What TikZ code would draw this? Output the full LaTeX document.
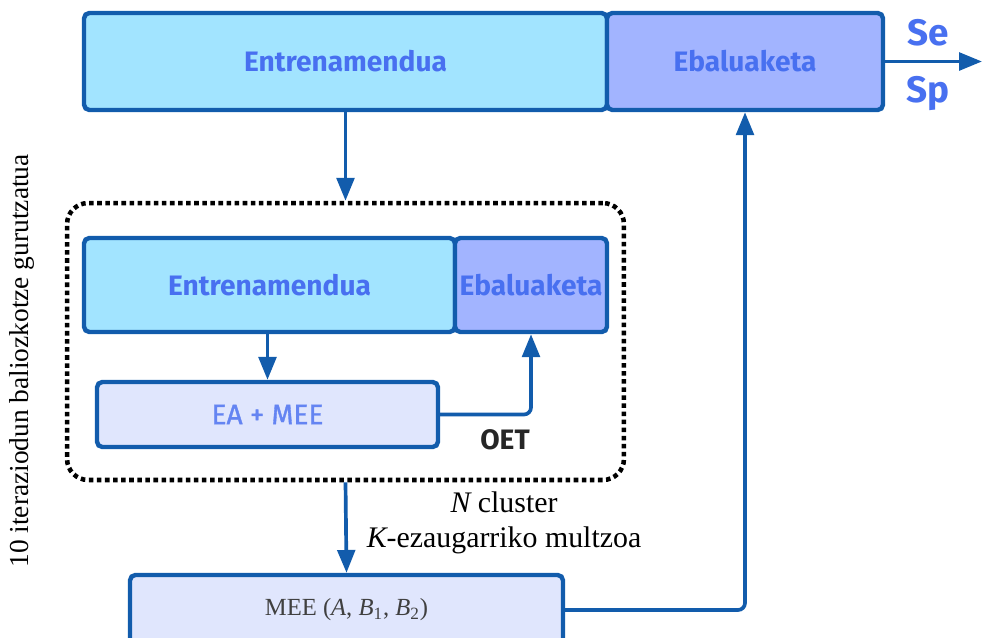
\documentclass[tikz,border=0pt]{standalone}
\usepackage{amsmath}
\usepackage{fontspec}
\usepackage{tikz}
\usetikzlibrary{arrows.meta}
\newfontfamily\boxfont{Fira Sans}
\newfontfamily\midfont[FakeBold=1.2]{Fira Sans}
\newfontfamily\notefont{Liberation Serif}
\definecolor{edgeblue}{RGB}{18,92,172}
\definecolor{trainfill}{RGB}{162,228,255}
\definecolor{evalfill}{RGB}{162,180,255}
\definecolor{eafill}{RGB}{224,230,253}
\definecolor{textblue}{RGB}{72,112,240}
\definecolor{lightblue}{RGB}{100,132,242}
\tikzset{
  block/.style={draw=edgeblue, line width=2.5pt, rounded corners=3pt, inner sep=0pt, font=\boxfont\bfseries\fontsize{16}{18}\selectfont, text=textblue},
  link/.style={draw=edgeblue, line width=2.1pt, -{Triangle[length=13pt,width=10pt]}},
}

\begin{document}
\begin{tikzpicture}[x=0.02cm, y=-0.02cm] %%% one unit = one pixel of the 982x637 sketch
      \useasboundingbox (0,0) rectangle (982,637);
      %%% outer loop: training + evaluation
      \node[block, fill=trainfill, minimum width=10.46cm, minimum height=1.94cm] (trainTop) at (345.5,61.5) {Entrenamendua};
      \node[block, fill=evalfill,  minimum width=5.52cm,  minimum height=1.94cm] (evalTop)  at (745,61.5)   {Ebaluaketa};
      \coordinate (out) at (982,61.5);
      \draw[link] (evalTop.east) -- (out);
      \node[text=textblue, font=\boxfont\bfseries\fontsize{21}{23}\selectfont] (se) at (928,33) {Se};
      \node[text=textblue, font=\boxfont\bfseries\fontsize{21}{23}\selectfont] (sp) at (928,93) {Sp};

      %%% inner 10-fold cross validation
      \node[draw=black, dotted, line width=2.6pt, rounded corners=12pt, minimum width=11.14cm, minimum height=5.54cm] (cvBox) at (345.5,341.5) {};
      \node[block, fill=trainfill, minimum width=7.42cm, minimum height=1.88cm] (trainIn) at (269.5,285) {Entrenamendua};
      \node[block, fill=evalfill,  minimum width=3.04cm, minimum height=1.88cm] (evalIn)  at (531,285)   {Ebaluaketa};
      \node[block, fill=eafill, text=lightblue, font=\midfont\fontsize{16}{18}\selectfont, minimum width=6.82cm, minimum height=1.3cm] (eaMee) at (267.5,414.5) {EA + MEE};
      \node[text=black!85, font=\boxfont\bfseries\fontsize{16}{18}\selectfont] (oet) at (505,440) {OET};
      \node[rotate=90, font=\notefont\fontsize{15.6}{17}\selectfont] (cvLabel) at (22,361) {10 iteraziodun baliozkotze gurutzatua};

      %%% final model
      \node[block, fill=eafill, text=black!75, font=\notefont\fontsize{14}{16}\selectfont, minimum width=8.66cm, minimum height=1.4cm] (mee) at (346.5,610) {MEE ({\itshape A}, {\itshape B}\textsubscript{1}, {\itshape B}\textsubscript{2})};
      \node[font=\notefont\fontsize{17}{20}\selectfont, align=center] (featLabel) at (504,523) {{\itshape N} cluster\\{\itshape K}-ezaugarriko multzoa};

      %%% connectors
      \draw[link] (trainTop.south) -- (cvBox.north);
      \draw[link] (eaMee.north |- trainIn.south) -- (eaMee.north);
      \draw[link, rounded corners=4pt] (eaMee.east) -| (evalIn.south);
      \draw[link] (cvBox.south) -- (mee.north);
      \draw[link, rounded corners=4pt] (mee.east) -| (evalTop.south);
\end{tikzpicture}
\end{document}
